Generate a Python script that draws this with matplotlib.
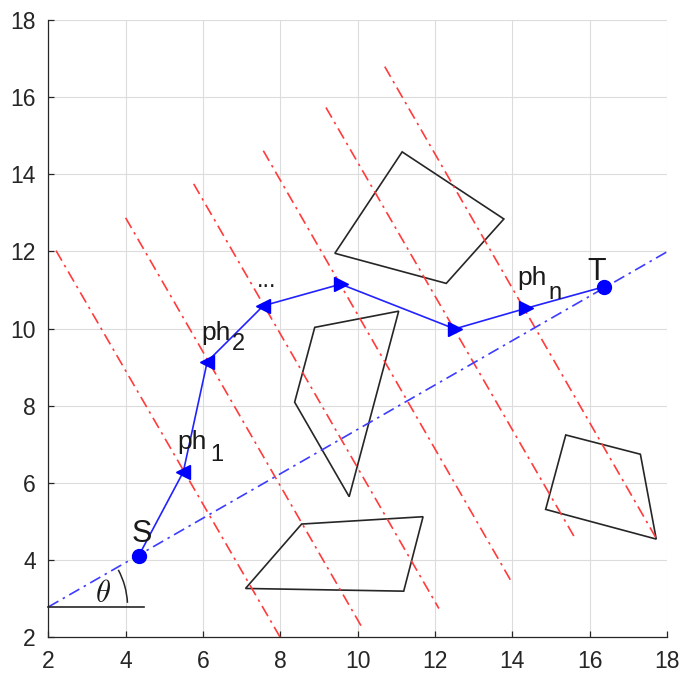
import matplotlib
matplotlib.use("Agg")
import matplotlib.pyplot as plt
from matplotlib.patches import Arc, Polygon
import numpy as np

plt.rcParams['font.family'] = ['Liberation Sans', 'DejaVu Sans']

# ---- data ----
path_x = [4.34, 5.49, 6.11, 7.56, 9.56, 12.51, 14.34, 16.36]
path_y = [4.11, 6.28, 9.14, 10.59, 11.15, 9.99, 10.52, 11.08]
path_markers = ['o', '<', '<', '<', '>', '>', '>', 'o']

st_x = [2.0, 18.0]
st_y = [2.78, 11.99]

red_top_x = [2.20, 4.00, 5.76, 7.56, 9.18, 10.70]
red_top_y = [12.02, 12.87, 13.75, 14.61, 15.73, 16.79]
red_bot_x = [8.05, 10.14, 12.10, 13.99, 15.64, 17.72]
red_bot_y = [1.90, 2.20, 2.74, 3.41, 4.53, 4.56]

obstacles = [
    [(11.15, 14.58), (13.78, 12.84), (12.29, 11.17), (9.41, 11.95)],
    [(8.89, 10.03), (11.06, 10.45), (9.78, 5.64), (8.37, 8.09)],
    [(8.55, 4.93), (11.69, 5.12), (11.19, 3.19), (7.10, 3.26)],
    [(15.38, 7.24), (17.31, 6.74), (17.72, 4.54), (14.86, 5.31)],
]

x_ticks = [2, 4, 6, 8, 10, 12, 14, 16, 18]
y_ticks = [2, 4, 6, 8, 10, 12, 14, 16, 18]

# ---- figure ----
fig = plt.figure(figsize=(6.8, 6.77), dpi=100)
ax = fig.add_axes([0.071, 0.059, 0.910, 0.9115])
ax.set_xlim(2, 18)
ax.set_ylim(2, 18)
ax.set_xticks(x_ticks)
ax.set_yticks(y_ticks)
ax.grid(True, color='#dcdcdc', linewidth=0.8)
ax.set_axisbelow(True)
for s in ['top', 'right']:
    ax.spines[s].set_visible(False)
for s in ['left', 'bottom']:
    ax.spines[s].set_color('#262626')
    ax.spines[s].set_linewidth(0.9)
ax.tick_params(direction='in', length=4, width=0.9, colors='#262626',
               labelsize=16.5, pad=9, labelcolor='#262626')

dash = (0, (7, 3, 1.5, 3))

# red perpendicular lines
for tx, ty, bx, by in zip(red_top_x, red_top_y, red_bot_x, red_bot_y):
    ax.plot([tx, bx], [ty, by], color='#ff3b3b', linewidth=1.2, linestyle=dash)

# straight S-T line
ax.plot(st_x, st_y, color='#3c3cff', linewidth=1.2, linestyle=dash)

# obstacles
for poly in obstacles:
    ax.add_patch(Polygon(poly, closed=True, fill=False, edgecolor='#262626',
                         linewidth=1.2))

# path
ax.plot(path_x, path_y, color='#2222ff', linewidth=1.2)
for x, y, m in zip(path_x, path_y, path_markers):
    ax.plot([x], [y], marker=m, color='#0000ff', markersize=10,
            markeredgecolor='#0000ff', linestyle='none')

# theta annotation
ax.plot([2.0, 4.48], [2.77, 2.77], color='#262626', linewidth=1.2, clip_on=False)
ax.add_patch(Arc((2.0, 2.78), 4.1, 4.1, theta1=3, theta2=28,
                 color='#262626', linewidth=1.1))
ax.text(3.41, 3.11, r'$\theta$', math_fontfamily='cm', fontsize=22,
        ha='center', va='center', color='#1a1a1a')

# labels
ax.text(4.16, 4.46, 'S', fontsize=22, ha='left', va='baseline', color='#1a1a1a')
ax.text(15.95, 11.26, 'T', fontsize=22, ha='left', va='baseline', color='#1a1a1a')

ax.text(5.33, 6.87, 'ph', fontsize=19, ha='left', va='baseline', color='#1a1a1a')
ax.text(6.18, 6.56, '1', fontsize=17, ha='left', va='baseline', color='#1a1a1a')
ax.text(5.97, 9.70, 'ph', fontsize=19, ha='left', va='baseline', color='#1a1a1a')
ax.text(6.74, 9.44, '2', fontsize=17, ha='left', va='baseline', color='#1a1a1a')
ax.text(14.12, 11.13, 'ph', fontsize=19, ha='left', va='baseline', color='#1a1a1a')
ax.text(14.92, 10.76, 'n', fontsize=17, ha='left', va='baseline', color='#1a1a1a')
ax.text(7.65, 11.08, '...', fontsize=17, ha='center', va='baseline', color='#1a1a1a')

fig.savefig('out.png', dpi=100)
